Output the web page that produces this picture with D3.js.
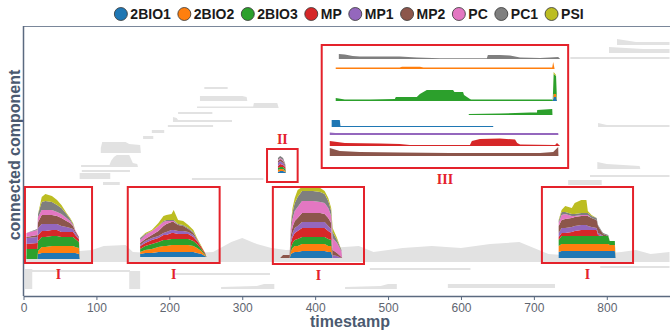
<!DOCTYPE html>
<html>
<head>
<meta charset="utf-8">
<script src="https://cdn.jsdelivr.net/npm/d3@7"></script>
<style>
  body { margin: 0; background: #fff; }
  svg { display: block; font-family: "Liberation Sans", Arial, sans-serif; }
</style>
</head>
<body>
<svg id="chart" width="670" height="330"></svg>
<script>
// series (stack order = legend order)
const series = ['2BIO1', '2BIO2', '2BIO3', 'MP', 'MP1', 'MP2', 'PC', 'PC1', 'PSI'];
const xTicks = [0, 100, 200, 300, 400, 500, 600, 700, 800];

// cluster I (t ~ 0-80), component level 37
const aLevel = 37;
const aTimes = [4, 19, 20, 25, 30, 39, 46, 52, 59, 64, 68, 71, 76, 77];
const aRows = [
  [0, 0, 10, 5, 6, 1, 4, 0, 0],
  [0, 0, 10, 6, 6, 2, 5, 1, 0],
  [5, 3, 10, 6, 7, 6, 5, 3, 0],
  [6, 6, 10, 6, 7, 9, 5, 8, 5],
  [6, 6, 10, 6, 7, 9, 5, 9, 7],
  [6, 7, 10, 6, 6, 9, 5, 8, 6],
  [6, 7, 10, 6, 6, 8, 4, 7, 5],
  [6, 7, 9, 5, 6, 8, 4, 6, 3],
  [6, 7, 9, 5, 5, 6, 3, 4, 1],
  [6, 7, 9, 5, 4, 5, 2, 2, 1],
  [6, 7, 9, 5, 3, 3, 1, 1, 1],
  [6, 6, 8, 4, 2, 2, 1, 0, 0],
  [5, 6, 6, 3, 1, 1, 0, 0, 0],
  [0, 0, 0, 0, 0, 0, 0, 0, 0]
];

// cluster I (t ~ 160-250), level 39
const bLevel = 39;
const bTimes = [160, 167, 176, 185, 192, 196, 203, 206, 212, 219, 226, 233, 238, 244, 249, 251];
const bRows = [
  [3, 2, 3, 3, 1, 2, 3, 2, 0],
  [4, 3, 4, 3, 2, 2, 4, 1, 1],
  [4, 4, 5, 4, 2, 3, 4, 0, 1],
  [5, 5, 5, 4, 2, 5, 5, 0, 3],
  [5, 6, 6, 5, 2, 7, 4, 1, 5],
  [5, 6, 6, 5, 3, 8, 3, 1, 5],
  [5, 7, 6, 6, 3, 8, 1, 1, 6],
  [5, 7, 6, 6, 3, 8, 1, 1, 10],
  [5, 7, 6, 5, 3, 6, 0, 1, 4],
  [5, 7, 6, 5, 3, 5, 0, 1, 4],
  [5, 7, 6, 5, 2, 3, 0, 1, 3],
  [5, 6, 5, 4, 2, 2, 0, 1, 2],
  [4, 5, 4, 3, 1, 1, 0, 0, 1],
  [3, 3, 2, 2, 0, 0, 0, 0, 1],
  [1, 1, 1, 1, 0, 0, 0, 0, 0],
  [0, 0, 0, 0, 0, 0, 0, 0, 0]
];

// cluster I (t ~ 355-437), level 38
const cLevel = 38;
const cTimes = [352, 356, 365, 367, 369, 372, 376, 382, 397, 407, 413, 418, 422, 424, 430, 436, 437];
const cRows = [
  [0, 0, 0, 0, 0, 0, 0, 0, 0],
  [0, 0, 0, 0, 0, 3, 0, 0, 0],
  [0, 0, 0, 0, 0, 3, 0, 0, 0],
  [4, 3, 4, 5, 3, 5, 6, 5, 2],
  [5, 5, 5, 6, 4, 6, 8, 7, 4],
  [6, 6, 6, 7, 5, 7, 10, 8, 5],
  [6, 6, 7, 8, 5, 8, 11, 10, 7],
  [7, 7, 7, 9, 6, 9, 12, 10, 4],
  [7, 7, 7, 9, 6, 9, 12, 10, 4],
  [7, 7, 7, 9, 6, 9, 11, 10, 4],
  [7, 7, 7, 9, 6, 8, 11, 9, 3],
  [6, 6, 7, 8, 5, 8, 10, 7, 3],
  [6, 6, 6, 7, 4, 6, 7, 5, 3],
  [0, 0, 0, 0, 3, 5, 12, 6, 4],
  [0, 0, 0, 0, 2, 3, 10, 3, 2],
  [0, 0, 0, 0, 0, 1, 6, 1, 0],
  [0, 0, 0, 0, 0, 0, 0, 0, 0]
];

// cluster I (t ~ 733-812), level 38
const dLevel = 38;
const dTimes = [734, 738, 743, 752, 756, 765, 772, 774, 779, 786, 788, 793, 795, 802, 804, 811, 812];
const dRows = [
  [6, 6, 6, 3, 4, 7, 3, 2, 1],
  [7, 7, 8, 3, 5, 8, 5, 3, 2],
  [7, 7, 8, 3, 5, 9, 5, 2, 6],
  [7, 7, 8, 4, 5, 9, 2, 2, 6],
  [7, 7, 8, 5, 5, 9, 1, 2, 11],
  [7, 7, 8, 6, 5, 9, 1, 2, 13],
  [7, 7, 8, 6, 5, 9, 1, 2, 13],
  [7, 7, 8, 6, 4, 10, 1, 2, 2],
  [7, 7, 8, 6, 3, 9, 0, 2, 1],
  [7, 7, 8, 6, 2, 8, 0, 2, 0],
  [7, 7, 8, 1, 2, 7, 0, 1, 0],
  [7, 7, 8, 0, 1, 3, 0, 1, 0],
  [7, 7, 8, 0, 0, 2, 0, 1, 0],
  [7, 7, 8, 0, 0, 0, 0, 1, 0],
  [7, 6, 4, 0, 0, 0, 0, 0, 0],
  [7, 6, 4, 0, 0, 0, 0, 0, 0],
  [0, 0, 0, 0, 0, 0, 0, 0, 0]
];

// cluster II (t ~ 349-360), level 123
const eLevel = 123;
const eTimes = [349, 352, 356, 359, 360];
const eRows = [
  [1, 2, 2, 2, 3, 2, 1, 2, 0],
  [2, 2, 2, 3, 3, 2, 1, 2, 0],
  [2, 2, 2, 2, 2, 2, 1, 2, 0],
  [1, 1, 2, 2, 1, 1, 0, 1, 0],
  [0, 0, 0, 0, 0, 0, 0, 0, 0]
];

// other components: [level, [[timestamp, size], ...]]
const grayStreams = [
  [34, [[0, 6], [20, 8], [60, 10], [94, 12], [110, 16], [140, 17], [150, 10], [200, 8], [260, 10], [285, 20], [300, 24], [320, 18], [340, 14], [360, 12], [420, 14], [460, 16], [480, 10], [520, 14], [560, 16], [600, 14], [640, 18], [680, 20], [700, 14], [720, 8], [760, 6], [820, 10], [840, 12], [860, 8], [886, 10]]],
  [207, [[248, 2], [280, 2]]],
  [195, [[242, 5], [300, 5], [306, 4], [307, 0]]],
  [188, [[238, 1.5], [315, 1.5], [316, 5], [348, 5], [350, 0]]],
  [182, [[212, 2], [259, 2]]],
  [174, [[205, 5], [210, 4], [212, 2], [286, 2]]],
  [169, [[198, 2], [260, 2]]],
  [163, [[176, 3], [193, 3]]],
  [157, [[164, 3], [178, 3]]],
  [143, [[106, 5], [108, 11], [140, 11], [145, 9], [160, 8], [161, 0]]],
  [129, [[79, 2], [118, 2], [120, 6], [124, 10], [128, 12], [145, 12], [150, 4], [156, 3], [157, 0]]],
  [124, [[80, 2], [146, 2]]],
  [117, [[77, 6], [119, 6]]],
  [116, [[231, 2], [329, 2]]],
  [111, [[109, 3], [132, 3]]],
  [251, [[814, 6], [840, 3], [886, 3]]],
  [243, [[803, 6], [850, 4], [886, 4]]],
  [237, [[750, 2], [886, 2]]],
  [169, [[788, 4], [800, 2], [886, 2]]],
  [127, [[787, 7], [800, 5], [845, 3], [846, 0]]],
  [119, [[777, 2], [886, 2]]],
  [111, [[747, 5], [793, 5]]],
  [24, [[9, 2], [146, 2]]],
  [21, [[208, 2], [338, 2]]],
  [26, [[475, 2], [613, 2]]],
  [28, [[791, 2], [886, 2]]],
  [7, [[271, 2], [320, 3], [330, 5], [344, 5]]],
  [7, [[441, 2], [490, 3], [500, 5], [512, 5]]],
  [8, [[582, 4], [729, 4]]],
  [7, [[2, 20], [12, 20]]],
  [7, [[145, 18], [160, 18]]]
];

// highlight boxes: [t0, t1, levelLow, levelHigh, label, label side]
const boxes = [
  [2, 94, 33, 109, 'I', 'below'],
  [143, 269, 33, 109, 'I', 'below'],
  [342, 467, 32, 109, 'I', 'below'],
  [711, 836, 33, 109, 'I', 'below'],
  [334, 376, 114, 147, 'II', 'above'],
  [409, 747, 128, 251, 'III', 'below']
];

// inset III: streams on a local axis, [series index, level, [[u, size], ...]]
const insetStreams = [
  [7, 109, [[5.5, 5], [8, 4.5], [11.3, 3], [14.3, 2.5], [31, 2.5], [38.2, 1.5], [47.9, 0.7], [67.6, 0.7], [68, 4], [73, 4], [77.3, 3.5], [81.5, 1.5], [89.9, 1], [94, 1.5], [97.5, 2], [98.3, 0]]],
  [1, 99, [[4.2, 1.5], [31, 1.5], [32, 2.2], [39.5, 2.2], [41, 1.5], [95, 1.5], [95.4, 7], [96, 0]]],
  [2, 67, [[4.2, 3], [8, 1.5], [18.5, 1.5], [29, 2], [29.4, 4], [38.2, 4], [39.5, 7], [42.4, 11], [53.4, 11], [54, 9], [57.6, 9], [58, 6], [60.5, 2], [61, 1.5], [95, 1.5], [95.4, 0]]],
  [2, 53, [[60, 1], [73, 1.5], [85.7, 2.5], [88.6, 2.5], [88.7, 5], [95, 6], [95.1, 0]]],
  [0, 41, [[2.5, 7], [5.9, 7], [6.2, 1], [70.2, 1], [70.3, 0]]],
  [4, 33, [[1.7, 2.5], [4, 2], [97.5, 2], [97.6, 0]]],
  [3, 22, [[1.7, 5], [8, 3], [22.7, 2.5], [31, 2], [35.3, 1], [60.5, 1], [61.3, 5], [64.7, 7], [73, 7.5], [79.4, 6.5], [80.3, 3], [81.5, 1.5], [96.2, 1], [97, 3], [98.3, 0]]],
  [5, 12, [[1.7, 8], [5.9, 5], [14.3, 4], [31, 3.5], [52, 3], [73, 3], [89.9, 3], [95.4, 4], [97.5, 9], [97.6, 0]]]
];
const insetSpikeLevel = 67;
const insetSpikeTimes = [95.2, 95.6, 96.6, 97];
const insetSpikeRows = [
  [0, 0, 0, 0, 0, 0, 0, 0, 0],
  [4, 3, 20, 0, 0, 0, 0, 0, 2],
  [4, 3, 18, 0, 0, 0, 0, 0, 1],
  [0, 0, 0, 0, 0, 0, 0, 0, 0]
];

const colors = d3.scaleOrdinal().domain(series).range(d3.schemeCategory10);
const axisColor = '#5b6a80';
const boxColor = '#e4222b';
const grayFill = '#e2e2e2';

const svg = d3.select('#chart');
const width = 670, height = 330;

const x = d3.scaleLinear().domain([0, 886]).range([23.5, 669.5]);
const y = d3.scaleLinear().domain([0, 270]).range([296, 26]);

const plot = svg.append('g');

function drawGray(g, xs, ys, level, pts, fill) {
  const area = d3.area()
    .x(d => xs(d[0]))
    .y0(ys(level))
    .y1(d => ys(level + d[1]));
  g.append('path').attr('d', area(pts)).attr('fill', fill);
}

function drawStack(g, xs, ys, level, times, rows) {
  const data = times.map((t, i) => {
    const o = { t };
    series.forEach((s, j) => { o[s] = rows[i][j]; });
    return o;
  });
  const stacked = d3.stack().keys(series)(data);
  const area = d3.area()
    .x(d => xs(d.data.t))
    .y0(d => ys(level + d[0]))
    .y1(d => ys(level + d[1]));
  g.selectAll(null)
    .data(stacked)
    .join('path')
    .attr('fill', d => colors(d.key))
    .attr('d', area);
}

// background components
grayStreams.forEach(([level, pts]) => drawGray(plot, x, y, level, pts, grayFill));

// highlighted components
drawStack(plot, x, y, aLevel, aTimes, aRows);
drawStack(plot, x, y, bLevel, bTimes, bRows);
drawStack(plot, x, y, cLevel, cTimes, cRows);
drawStack(plot, x, y, dLevel, dTimes, dRows);
drawStack(plot, x, y, eLevel, eTimes, eRows);

// frame
svg.append('line')
  .attr('x1', x(0)).attr('x2', width)
  .attr('y1', y(270) + 0.5).attr('y2', y(270) + 0.5)
  .attr('stroke', '#7a879a').attr('stroke-width', 1.2);
svg.append('line')
  .attr('x1', x(0)).attr('x2', x(0))
  .attr('y1', y(270)).attr('y2', y(0))
  .attr('stroke', axisColor).attr('stroke-width', 1.5);

// x axis
const xAxis = svg.append('g')
  .attr('transform', `translate(0,${y(0)})`)
  .call(d3.axisBottom(x).tickValues(xTicks).tickSize(4).tickSizeOuter(0).tickPadding(3));
xAxis.select('.domain').attr('stroke', axisColor).attr('stroke-width', 1.5);
xAxis.selectAll('.tick line').attr('stroke', axisColor);
xAxis.selectAll('.tick text')
  .attr('fill', '#5f6670')
  .style('font-size', '12px')
  .style('font-family', '"Liberation Sans", Arial, sans-serif');

svg.append('text')
  .attr('x', 350).attr('y', 327)
  .attr('text-anchor', 'middle')
  .attr('fill', '#4b5a70')
  .style('font-size', '16px')
  .style('font-weight', 'bold')
  .text('timestamp');

svg.append('text')
  .attr('transform', `translate(20,155) rotate(-90)`)
  .attr('text-anchor', 'middle')
  .attr('fill', '#4b5a70')
  .style('font-size', '16px')
  .style('font-weight', 'bold')
  .text('connected component');

// boxes + roman labels
boxes.forEach(([t0, t1, lo, hi, label, side]) => {
  const bx0 = x(t0), bx1 = x(t1), by0 = y(hi), by1 = y(lo);
  svg.append('rect')
    .attr('x', bx0).attr('y', by0)
    .attr('width', bx1 - bx0).attr('height', by1 - by0)
    .attr('fill', 'none')
    .attr('stroke', boxColor)
    .attr('stroke-width', 2);
  svg.append('text')
    .attr('x', (bx0 + bx1) / 2)
    .attr('y', side === 'below' ? by1 + 16 : by0 - 5)
    .attr('text-anchor', 'middle')
    .attr('fill', boxColor)
    .style('font-family', '"Liberation Serif", "Times New Roman", serif')
    .style('font-size', '14px')
    .style('font-weight', 'bold')
    .text(label);
});

// inset III content
const insetBox = boxes[5];
const ix = d3.scaleLinear().domain([0, 100]).range([x(insetBox[0]) + 4, x(insetBox[1]) - 4]);
const iy = d3.scaleLinear().domain([0, 123]).range([y(insetBox[2]), y(insetBox[3])]);
const inset = svg.append('g');
insetStreams.forEach(([si, level, pts]) => drawGray(inset, ix, iy, level, pts, colors(series[si])));
drawStack(inset, ix, iy, insetSpikeLevel, insetSpikeTimes, insetSpikeRows);

// legend
const legend = svg.append('g');
let cursor = 0;
series.forEach(s => {
  const item = legend.append('g').attr('transform', `translate(${cursor},0)`);
  item.append('circle')
    .attr('cx', 6.5).attr('cy', 0).attr('r', 6.5)
    .attr('fill', colors(s))
    .attr('stroke', '#333').attr('stroke-width', 0.8);
  const t = item.append('text')
    .attr('x', 16).attr('y', 5)
    .attr('fill', '#1a1a1a')
    .style('font-size', '14px')
    .style('font-weight', 'bold')
    .text(s);
  cursor += 16 + t.node().getComputedTextLength() + 7;
});
cursor -= 7;
legend.attr('transform', `translate(${349 - cursor / 2},14)`);
</script>
</body>
</html>
